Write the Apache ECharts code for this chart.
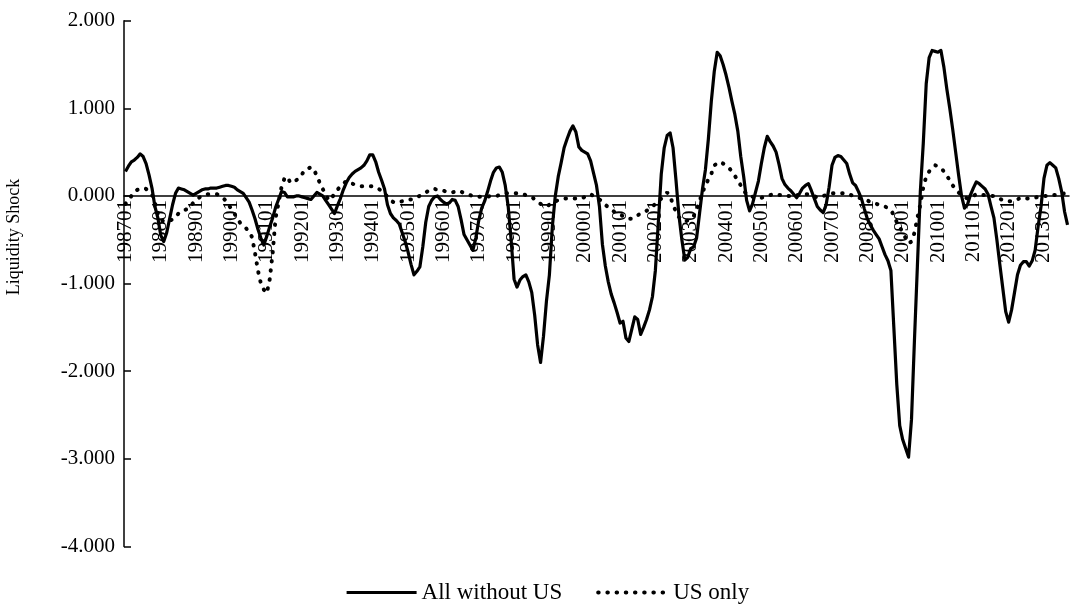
<!DOCTYPE html>
<html>
<head>
<meta charset="utf-8">
<script src="https://cdn.jsdelivr.net/npm/echarts@6/dist/echarts.min.js"></script>
<style>
html,body{margin:0;padding:0;background:#fff;}
#chart{width:1072px;height:612px;}
</style>
</head>
<body>
<div id="chart"></div>
<script>
// Monthly categories 198701 .. 201309
var startYear = 1987, startMonth = 1, nMonths = 321;
var categories = [];
for (var i = 0; i < nMonths; i++) {
  var y = startYear + Math.floor((startMonth - 1 + i) / 12);
  var mo = (startMonth - 1 + i) % 12 + 1;
  categories.push(String(y) + (mo < 10 ? '0' : '') + mo);
}

var seriesNames = ['All without US', 'US only'];

var allWithoutUS = [
  0.28,0.34,0.39,0.41,0.44,0.48,0.45,0.37,0.24,0.09,-0.12,-0.25,
  -0.45,-0.52,-0.42,-0.26,-0.10,0.03,0.09,0.08,0.07,0.05,0.03,0.01,
  0.03,0.05,0.07,0.08,0.08,0.09,0.09,0.09,0.10,0.11,0.12,0.12,
  0.11,0.10,0.07,0.05,0.03,-0.02,-0.07,-0.16,-0.26,-0.38,-0.48,-0.56,
  -0.46,-0.35,-0.25,-0.13,-0.04,0.05,0.04,-0.01,-0.01,-0.01,0.00,0.00,
  -0.01,-0.02,-0.03,-0.04,0.00,0.04,0.02,0.00,-0.05,-0.10,-0.15,-0.20,
  -0.11,-0.03,0.07,0.15,0.21,0.25,0.28,0.30,0.32,0.35,0.40,0.47,
  0.47,0.39,0.27,0.18,0.08,-0.10,-0.20,-0.25,-0.28,-0.32,-0.42,-0.52,
  -0.64,-0.78,-0.90,-0.86,-0.81,-0.58,-0.30,-0.12,-0.05,-0.01,0.00,-0.04,
  -0.07,-0.09,-0.08,-0.04,-0.05,-0.12,-0.27,-0.44,-0.50,-0.56,-0.62,-0.48,
  -0.28,-0.14,-0.06,0.05,0.17,0.27,0.32,0.33,0.27,0.12,-0.12,-0.50,
  -0.95,-1.04,-0.96,-0.92,-0.90,-0.98,-1.10,-1.36,-1.70,-1.90,-1.60,-1.20,
  -0.90,-0.35,0.00,0.22,0.38,0.55,0.65,0.74,0.80,0.73,0.56,0.52,
  0.50,0.48,0.40,0.26,0.12,-0.12,-0.55,-0.80,-0.98,-1.12,-1.22,-1.33,
  -1.45,-1.43,-1.62,-1.66,-1.52,-1.38,-1.41,-1.58,-1.50,-1.41,-1.30,-1.15,
  -0.85,-0.30,0.25,0.55,0.69,0.72,0.55,0.18,-0.22,-0.50,-0.73,-0.70,
  -0.60,-0.58,-0.48,-0.20,0.08,0.30,0.65,1.08,1.42,1.64,1.60,1.50,
  1.38,1.24,1.08,0.93,0.74,0.45,0.22,-0.05,-0.17,-0.09,0.04,0.17,
  0.37,0.55,0.68,0.62,0.57,0.50,0.36,0.20,0.13,0.09,0.06,0.02,
  -0.02,0.03,0.09,0.12,0.14,0.06,-0.03,-0.12,-0.16,-0.19,-0.10,0.10,
  0.35,0.44,0.46,0.45,0.41,0.37,0.25,0.15,0.12,0.05,-0.03,-0.15,
  -0.26,-0.33,-0.39,-0.44,-0.49,-0.58,-0.67,-0.74,-0.85,-1.50,-2.15,-2.62,
  -2.78,-2.88,-2.98,-2.55,-1.65,-0.80,0.05,0.60,1.28,1.58,1.66,1.65,
  1.64,1.66,1.47,1.22,1.00,0.76,0.50,0.24,0.00,-0.14,-0.10,0.01,
  0.09,0.16,0.14,0.11,0.08,0.02,-0.12,-0.25,-0.50,-0.78,-1.05,-1.32,
  -1.44,-1.30,-1.10,-0.90,-0.79,-0.75,-0.75,-0.80,-0.74,-0.62,-0.35,-0.12,
  0.20,0.35,0.38,0.35,0.32,0.20,0.05,-0.18,-0.33
];

var usOnly = [
  -0.09,-0.05,0.00,0.05,0.07,0.08,0.09,0.08,0.05,0.02,-0.08,-0.20,
  -0.27,-0.29,-0.29,-0.28,-0.27,-0.24,-0.20,-0.17,-0.16,-0.15,-0.12,-0.08,
  -0.05,-0.02,0.00,0.01,0.02,0.02,0.02,0.02,0.01,-0.02,-0.05,-0.10,
  -0.15,-0.20,-0.26,-0.31,-0.34,-0.37,-0.41,-0.47,-0.65,-0.85,-1.00,-1.07,
  -1.11,-0.95,-0.65,-0.25,-0.08,0.10,0.20,0.22,0.15,0.16,0.18,0.20,
  0.25,0.30,0.31,0.33,0.30,0.23,0.15,0.08,0.02,-0.05,-0.03,0.03,
  0.07,0.11,0.14,0.17,0.16,0.14,0.13,0.12,0.11,0.11,0.11,0.11,
  0.11,0.10,0.08,0.06,0.03,-0.01,-0.05,-0.07,-0.08,-0.07,-0.06,-0.05,
  -0.04,-0.04,-0.03,-0.01,0.00,0.02,0.04,0.06,0.08,0.08,0.07,0.07,
  0.06,0.05,0.04,0.04,0.05,0.06,0.05,0.03,0.02,0.01,0.00,-0.01,
  -0.01,-0.01,-0.01,-0.01,0.00,0.00,0.00,0.01,0.02,0.03,0.03,0.03,
  0.03,0.03,0.02,0.02,0.01,0.00,-0.01,-0.04,-0.07,-0.09,-0.11,-0.12,
  -0.10,-0.08,-0.06,-0.05,-0.04,-0.03,-0.03,-0.03,-0.03,-0.03,-0.03,-0.03,
  -0.01,0.01,0.02,0.00,-0.02,-0.04,-0.06,-0.10,-0.13,-0.15,-0.18,-0.20,
  -0.21,-0.23,-0.25,-0.26,-0.26,-0.24,-0.22,-0.20,-0.18,-0.17,-0.15,-0.12,
  -0.09,-0.06,-0.03,0.01,0.04,0.00,-0.10,-0.18,-0.24,-0.27,-0.29,-0.28,
  -0.26,-0.23,-0.16,-0.06,0.04,0.12,0.19,0.25,0.35,0.37,0.39,0.37,
  0.34,0.32,0.28,0.23,0.18,0.12,0.06,0.02,0.00,-0.01,-0.02,-0.02,
  -0.02,-0.01,0.00,0.01,0.02,0.02,0.01,0.01,0.00,0.00,0.00,0.00,
  0.01,0.01,0.01,0.02,0.02,0.01,0.00,-0.02,-0.01,0.00,0.01,0.02,
  0.03,0.03,0.03,0.03,0.03,0.03,0.02,0.00,-0.01,-0.02,-0.03,-0.04,
  -0.05,-0.07,-0.08,-0.09,-0.10,-0.11,-0.12,-0.14,-0.16,-0.22,-0.30,-0.35,
  -0.42,-0.48,-0.54,-0.52,-0.42,-0.25,-0.10,0.10,0.22,0.28,0.32,0.35,
  0.34,0.32,0.28,0.23,0.18,0.12,0.08,0.04,0.01,-0.01,-0.03,-0.02,
  0.00,0.02,0.02,0.01,0.01,0.01,0.00,0.00,-0.01,-0.03,-0.05,-0.06,
  -0.06,-0.06,-0.05,-0.04,-0.02,-0.02,-0.03,-0.03,-0.03,-0.02,-0.01,-0.01,
  0.00,0.00,0.00,0.01,0.01,0.02,0.02,0.03,0.03
];

var yMin = -4, yMax = 2, yInterval = 1;
var yAxisTitle = 'Liquidity Shock';
var FONT = "'Liberation Serif', 'Times New Roman', serif";

var gridTop = 20.7, gridBottom = 65.5, chartH = 612;
var plotH = chartH - gridTop - gridBottom;
// distance from plot bottom up to the value-0 line
var zeroOffset = plotH * (0 - yMin) / (yMax - yMin);

var chart = echarts.init(document.getElementById('chart'), null, {renderer: 'canvas'});
chart.setOption({
  animation: false,
  backgroundColor: '#fff',
  grid: {left: 124, right: 3, top: gridTop, bottom: gridBottom, containLabel: false},
  legend: {
    left: 340, top: 576,
    itemWidth: 70, itemHeight: 14, itemGap: 34,
    itemStyle: {opacity: 0},
    textStyle: {fontFamily: FONT, fontSize: 23, color: '#000'},
    data: [
      {name: seriesNames[0], lineStyle: {width: 3.2, color: '#000'}},
      {name: seriesNames[1], lineStyle: {width: 4, color: '#000', type: [0.5, 8.7], cap: 'round'}}
    ]
  },
  graphic: [{
    type: 'text',
    x: 14, y: 237,
    rotation: Math.PI / 2,
    style: {text: yAxisTitle, font: '18px ' + FONT, fill: '#000', align: 'center', verticalAlign: 'middle'}
  }],
  xAxis: {
    type: 'category',
    data: categories,
    boundaryGap: true,
    position: 'bottom',
    offset: -zeroOffset,
    axisLine: {onZero: false, lineStyle: {color: '#000', width: 1.5}},
    axisTick: {inside: true, length: 6, lineStyle: {color: '#000', width: 1.5},
      interval: function (idx) { return idx % 12 === 0; }},
    axisLabel: {rotate: 90, margin: 4, fontFamily: FONT, fontSize: 21, color: '#000',
      interval: function (idx) { return idx % 12 === 0; }},
    splitLine: {show: false}
  },
  yAxis: {
    type: 'value',
    min: yMin, max: yMax, interval: yInterval,
    axisLine: {show: true, lineStyle: {color: '#000', width: 1.5}},
    axisTick: {show: true, inside: true, length: 7, lineStyle: {color: '#000', width: 1.5}},
    axisLabel: {margin: 9, fontFamily: FONT, fontSize: 21, color: '#000',
      formatter: function (v) { return v.toFixed(3); }},
    splitLine: {show: false}
  },
  series: [
    {
      name: seriesNames[0], type: 'line', data: allWithoutUS,
      symbol: 'none', z: 3, color: '#000',
      lineStyle: {color: '#000', width: 3.2, join: 'round'}
    },
    {
      name: seriesNames[1], type: 'line', data: usOnly,
      symbol: 'none', z: 4, color: '#000',
      lineStyle: {color: '#000', width: 4, type: [0.5, 8.7], cap: 'round'}
    }
  ]
});
</script>
</body>
</html>
